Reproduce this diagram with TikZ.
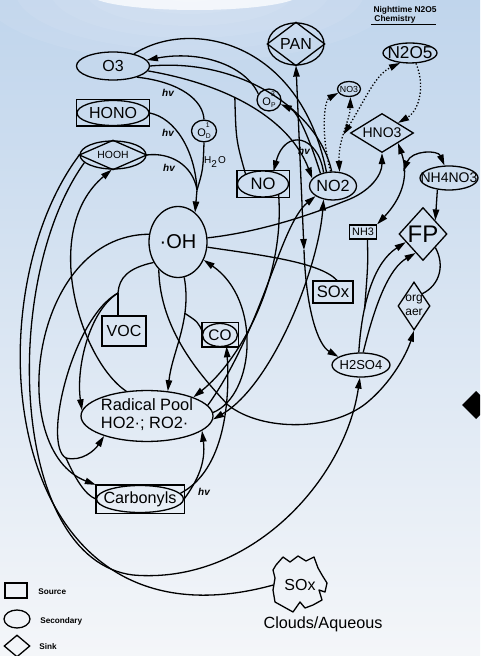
\documentclass[tikz,border=0pt]{standalone}
\usepackage{fontspec}
\setmainfont{Liberation Sans}
\usetikzlibrary{shapes.geometric,arrows.meta,calc}
\newcommand\fs[1]{\fontsize{#1}{#1}\selectfont}
\newcommand\z[1]{\makebox[0pt]{#1}}
\newcommand\atom[2]{O\raisebox{-0.45ex}{\fs{3.4}\shortstack[l]{#1\\#2}}}
\definecolor{skytop}{RGB}{192,213,236}
\definecolor{skybot}{RGB}{244,246,249}
\tikzset{
  sec/.style={ellipse,draw,inner sep=0pt},
  src/.style={rectangle,draw,inner sep=0pt},
  sink/.style={diamond,draw,inner sep=0pt},
  arr/.style={-{Triangle[length=5.5pt,width=3.2pt]}},
  arrboth/.style={{Triangle[length=5.5pt,width=3.2pt]}-{Triangle[length=5.5pt,width=3.2pt]}},
  hv/.style={font=\bfseries\itshape\fs{5}},
  tiny/.style={font=\bfseries\fs{4.2}},
}

\begin{document}
\begin{tikzpicture}[x=0.5pt,y=-0.5pt,line width=0.65pt]
\useasboundingbox (0,0) rectangle (480,656);
\clip (0,0) rectangle (480,656);
\shade[top color=skytop,bottom color=skybot] (0,0) rectangle (480,656);
\foreach \r in {1,...,6}
  \fill[white,opacity=0.07] (190,-10) ellipse ({35*\r} and {12*\r});
\fill[white,opacity=0.75] (195,-6) ellipse (105 and 16);

% species
\node[sec,minimum width=36.5pt,minimum height=14pt,font=\fs{8}] (O3) at (113,66) {\z{O3}};
\node[sec,minimum width=36pt,minimum height=12.5pt,font=\fs{8}] (HONO) at (113,113) {\z{HONO}};
\node[sec,minimum width=33pt,minimum height=14pt,font=\fs{5.2}] (HOOH) at (113,155) {\z{HOOH}};
\node[sec,minimum width=12.5pt,minimum height=10.5pt,font=\fs{5.5}] (O1D) at (204,131) {\z{\atom{1}{D}}};
\node[sec,minimum width=29pt,minimum height=35.5pt,font=\fs{10}] (OH) at (178,242) {\z{·OH}};
\node[src,minimum width=22pt,minimum height=15pt,font=\fs{8}] (VOC) at (124,331) {\z{VOC}};
\node[sec,minimum width=17.5pt,minimum height=11.5pt,font=\fs{7.7}] (CO) at (220,335) {\z{CO}};
\node[sec,minimum width=66pt,minimum height=24pt] (RP) at (147,416)
  {\z{\fontsize{8.2}{9}\selectfont\begin{tabular}{@{}l@{}}Radical Pool\\HO2·; RO2·\end{tabular}}};
\node[sec,minimum width=43.5pt,minimum height=13.5pt,font=\fs{8.1}] (Carb) at (140,499) {\z{Carbonyls}};
\node[sec,minimum width=25.5pt,minimum height=13pt,font=\fs{8.3}] (NO) at (263,184) {\z{NO}};
\node[sec,minimum width=23.5pt,minimum height=14pt,font=\fs{8.1}] (NO2) at (333,186) {\z{NO2}};
\node[sec,minimum width=12pt,minimum height=9.5pt,font=\fs{5.5}] (O3P) at (269,100) {\z{\atom{3}{P}}};
\node[sec,minimum width=28pt,minimum height=21pt,font=\fs{8}] (PAN) at (296,44) {\z{PAN}};
\node[sec,minimum width=11.5pt,minimum height=7.5pt,font=\fs{4.4}] (NO3) at (349,89) {\z{NO3}};
\node[sec,minimum width=27pt,minimum height=10pt,font=\fs{8.6}] (N2O5) at (410,53) {\z{N2O5}};
\node[sink,minimum width=31.5pt,minimum height=19.5pt,font=\fs{7}] (HNO3) at (382,133) {\z{HNO3}};
\node[sec,minimum width=29pt,minimum height=12pt,font=\fs{7}] (NH4NO3) at (449,178) {\z{NH4NO3}};
\node[sink,minimum width=24pt,minimum height=26.5pt,font=\fs{12}] (FP) at (423,234) {\z{FP}};
\node[src,minimum width=13.5pt,minimum height=7pt,font=\fs{5.4}] (NH3) at (363,232) {\z{NH3}};
\node[src,minimum width=20pt,minimum height=11pt,font=\fs{8.3}] (SOx) at (333,292) {\z{SOx}};
\node[sink,minimum width=16pt,minimum height=24pt] (orgaer) at (414,306)
  {\z{\fontsize{6}{7}\selectfont\begin{tabular}{@{}c@{}}org\\aer\end{tabular}}};
\node[sec,minimum width=29pt,minimum height=12pt,font=\fs{6.5}] (H2SO4) at (361,365) {\z{H2SO4}};
\node[minimum width=26pt,minimum height=26pt,inner sep=0pt,font=\fs{8}] (Cloud) at (300,585) {\z{SOx}};
\node[font=\fs{8.1}] (aq) at (323,624) {Clouds/Aqueous};

\foreach \n in {HONO,CO,NO,Carb}
  \draw (\n.north -| \n.west) rectangle (\n.south -| \n.east);
\foreach \n in {HOOH,PAN}
  \draw (\n.north) -- (\n.east) -- (\n.south) -- (\n.west) -- cycle;
\draw[line join=round] (276,565) -- (283,557) -- (290,562) -- (298,556) -- (306,561) -- (314,557)
  -- (318,568) -- (322,575) -- (327,583) -- (325,592) -- (319,590) -- (322,600) -- (313,605)
  -- (305,608) -- (300,602) -- (293,612) -- (284,607) -- (275,602) -- (273,590) -- (275,578)
  -- (273,570) -- cycle;
\fill (462,405) -- (476,391) -- (490,405) -- (476,419) -- cycle;

% titles and labels
\node[tiny] (night) at (405,10) {Nighttime N2O5};
\node[tiny] (chem) at (395,19) {Chemistry};
\draw[line width=0.4pt] (371,24) -- (436,24);
\node[hv] (hv1) at (168,93) {hv};
\node[hv] (hv2) at (168,133) {hv};
\node[hv] (hv3) at (169,168) {hv};
\node[hv] (hv4) at (304,151) {hv};
\node[hv] (hv5) at (204,492) {hv};
\node[font=\fs{5}] (water) at (215,162) {H\textsubscript{2}O};

% OH sources
\coordinate (ohtop) at (197,190);
\draw (O3.-25) .. controls (180,82) and (203,100) .. (O1D.north);
\draw[arr] (O1D.south) .. controls (203,170) .. (ohtop) -- (OH.60);
\draw (HONO.east) .. controls (175,118) and (195,150) .. (ohtop);
\draw (HOOH.east) .. controls (170,152) and (193,165) .. (ohtop);

% ozone and NOx
\draw[arr] (O3P.150) .. controls (245,65) and (200,50) .. (O3.10);
\draw (O3.30) .. controls (190,18) and (300,40) .. (NO2.115);
\draw (O3.0) .. controls (240,58) and (318,110) .. (NO2.95);
\draw[arr] (O3.-8) .. controls (230,85) and (290,120) .. coordinate[pos=0.4] (jno) (NO2.160);
\draw (NO.150) .. controls (236,140) .. (jno);
\draw[arr] (NO2.125) .. controls (318,135) and (285,128) .. (NO.50);
\draw[arr] (NO2.135) .. controls (310,140) and (298,112) .. (O3P.-20);
\coordinate (pv) at (304,250);
\draw[arrboth] (pv) -- (PAN.south);
\draw[arr] (pv) .. controls (306,310) and (318,345) .. (H2SO4.160);

% nighttime chemistry
\draw[densely dotted,arr] (NO2.100) .. controls (320,130) and (325,100) .. (NO3.200);
\draw[densely dotted,arrboth] (NO2.65) .. controls (338,140) and (350,120) .. coordinate[pos=0.45] (jn3) (NO3.-80);
\draw[densely dotted,arrboth] (jn3) .. controls (365,100) and (375,75) .. (N2O5.225);
\draw[densely dotted,arr] (N2O5.-60) .. controls (425,85) and (420,110) .. (HNO3.north east);

% acids and aerosol
\draw[arr] (OH.8) .. controls (260,232) and (310,215) .. (345,201) .. controls (370,192) and (382,175) .. (HNO3.south);
\draw (OH.-10) .. controls (260,255) and (320,262) .. ([xshift=2pt]SOx.north);
\draw[arrboth] (HNO3.south east) .. controls (410,178) and (400,200) .. coordinate[pos=0.3] (jnh) (NH3.north east);
\draw[arrboth] (jnh) .. controls (412,150) and (438,150) .. (NH4NO3.110);
\draw[arr] (NH4NO3.225) -- (FP.north east);
\draw[arr] (H2SO4.100) .. controls (362,300) and (375,262) .. coordinate[pos=0.3] (jfp) ($(FP.west)!0.3!(FP.south)$);
\draw (NH3.-60) .. controls (368,265) .. (jfp);
\draw[arr] (H2SO4.80) .. controls (376,300) and (390,268) .. ($(FP.west)!0.7!(FP.south)$);
\draw (FP.south east) .. controls (445,265) and (440,285) .. (orgaer.north east);
\draw[arr] (OH.-125) .. controls (160,330) and (200,375) .. (228,405) .. controls (262,432) and (335,432) .. (370,400) .. controls (395,378) and (408,350) .. (orgaer.south);

% radical pool
\draw[arr] (OH.-80) .. controls (192,320) and (172,352) .. coordinate[pos=0.3] (jco) (RP.50);
\draw (CO.170) .. controls (198,322) .. (jco);
\coordinate (J) at (118,293);
\coordinate (lp) at (66,458);
\draw (OH.-140) .. controls (128,268) and (119,278) .. (J);
\draw (VOC.north -| J) -- (J);
\draw[arr] (J) .. controls (88,312) and (76,370) .. (RP.175);
\draw[arr] (J) .. controls (72,318) and (42,445) .. (lp) .. controls (82,462) and (95,450) .. (RP.205);
\draw (lp) .. controls (75,478) and (85,495) .. (Carb.west);
\draw[arr] (OH.165) .. controls (30,235) and (5,450) .. (Carb.north -| Carb.west);
\draw[arr] (RP.130) .. controls (80,360) and (40,230) .. (HOOH.-95);
\draw[arr] (Carb.east) .. controls (198,480) and (206,462) .. (RP.-15);
\draw[arr] (Carb.8) .. controls (225,470) and (230,400) .. (CO.-60);
\draw[arr] (NO.-35) .. controls (285,280) and (240,360) .. (RP.22);
\draw[arr] (RP.10) .. controls (262,330) and (280,225) .. (NO2.210);
\draw[arrboth] (RP.-3) .. controls (272,385) and (318,270) .. (NO2.-125);
\draw[arr] (RP.3) .. controls (255,395) and (262,300) .. (OH.-35);

% aqueous pathways
\draw (HOOH.180) .. controls (-30,300) and (0,660) .. (Cloud.west);
\draw[arr] (HOOH.195) .. controls (0,280) and (10,560) .. (133,575) .. controls (250,585) and (345,480) .. (H2SO4.-95);

% legend
\node[src,minimum width=11pt,minimum height=7.5pt] (lsrc) at (16,590.5) {};
\node[tiny,font=\bfseries\fs{4.1},anchor=west] (tsrc) at (31,592) {Source};
\node[sec,minimum width=13pt,minimum height=9pt] (lsec) at (17,619) {};
\node[tiny,font=\bfseries\fs{4.1},anchor=west] (tsec) at (33,621) {Secondary};
\node[sink,minimum width=13pt,minimum height=11pt] (lsink) at (17,646) {};
\node[tiny,font=\bfseries\fs{4.1},anchor=west] (tsink) at (32,647) {Sink};
\end{tikzpicture}
\end{document}
